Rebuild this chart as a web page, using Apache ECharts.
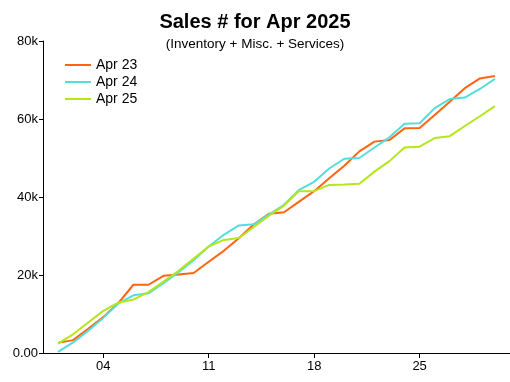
<!DOCTYPE html>
<html>
<head>
<meta charset="utf-8">
<script src="https://cdn.jsdelivr.net/npm/echarts@6/dist/echarts.min.js"></script>
<style>html,body{margin:0;padding:0;background:#fff}#c{width:510px;height:382px}</style>
</head>
<body>
<div id="c"></div>
<script>
var days = [1,2,3,4,5,6,7,8,9,10,11,12,13,14,15,16,17,18,19,20,21,22,23,24,25,26,27,28,29,30];
var apr23 = [2600,3300,6200,9200,12800,17500,17500,19800,20100,20500,23400,26200,29400,33000,35700,36100,38800,41500,44800,48000,51700,54200,54600,57600,57700,61000,64400,67900,70400,71000];
var apr24 = [300,2700,5700,9000,12700,14800,15300,17900,20700,23800,27300,30300,32700,33000,35500,38000,41800,43900,47300,49800,50000,52700,55300,58800,58900,62800,65100,65500,67700,70300];
var apr25 = [2400,4800,7800,10800,12900,13700,15600,18300,21100,24200,27300,29000,29500,32300,35200,37800,41500,41500,43100,43200,43400,46500,49200,52700,52900,55100,55600,58200,60700,63300];
var xTicks = [4,11,18,25];
var xTickLabels = ['04','11','18','25'];
var yTickLabels = ['0.00','20k','40k','60k','80k'];
var seriesNames = ['Apr 23','Apr 24','Apr 25'];
var colors = ['#FF6411','#55DDDD','#B5E61D'];

function pairs(vals){ return days.map(function(d,i){ return [d, vals[i]]; }); }

var chart = echarts.init(document.getElementById('c'), null, {renderer:'canvas'});
var font = 'Liberation Sans, Arial, sans-serif';
chart.setOption({
  animation:false,
  backgroundColor:'#fff',
  color: colors,
  title:{
    text:'Sales # for Apr 2025',
    subtext:'(Inventory + Misc. + Services)',
    left:'center', top:7,
    itemGap:5,
    textStyle:{fontFamily:font, fontSize:20, fontWeight:'bold', color:'#000'},
    subtextStyle:{fontFamily:font, fontSize:13.5, color:'#000'}
  },
  legend:{
    orient:'vertical', left:60, top:53,
    itemWidth:26, itemHeight:2, itemGap:3,
    icon:'rect',
    textStyle:{fontFamily:font, fontSize:14, color:'#000'},
    data:seriesNames
  },
  grid:{left:43, right:0, top:41, bottom:29, containLabel:false},
  xAxis:{
    type:'value', min:0, max:31,
    axisLine:{show:true, lineStyle:{color:'#000', width:1}},
    axisTick:{show:true, length:5, lineStyle:{color:'#000'}, customValues:xTicks},
    axisLabel:{fontFamily:font, fontSize:13, color:'#000', margin:7, customValues:xTicks,
      formatter:function(v){ var i = xTicks.indexOf(v); return i>=0 ? xTickLabels[i] : ''; }},
    splitLine:{show:false}
  },
  yAxis:{
    type:'value', min:0, max:80000, interval:20000,
    axisLine:{show:true, lineStyle:{color:'#000', width:1}},
    axisTick:{show:true, length:4, lineStyle:{color:'#000'}},
    axisLabel:{fontFamily:font, fontSize:13, color:'#000', margin:5,
      formatter:function(v){ return yTickLabels[Math.round(v/20000)]; }},
    splitLine:{show:false}
  },
  series:[
    {name:seriesNames[0], type:'line', data:pairs(apr23), showSymbol:false, lineStyle:{width:2}},
    {name:seriesNames[1], type:'line', data:pairs(apr24), showSymbol:false, lineStyle:{width:2}},
    {name:seriesNames[2], type:'line', data:pairs(apr25), showSymbol:false, lineStyle:{width:2}}
  ]
});
</script>
</body>
</html>
